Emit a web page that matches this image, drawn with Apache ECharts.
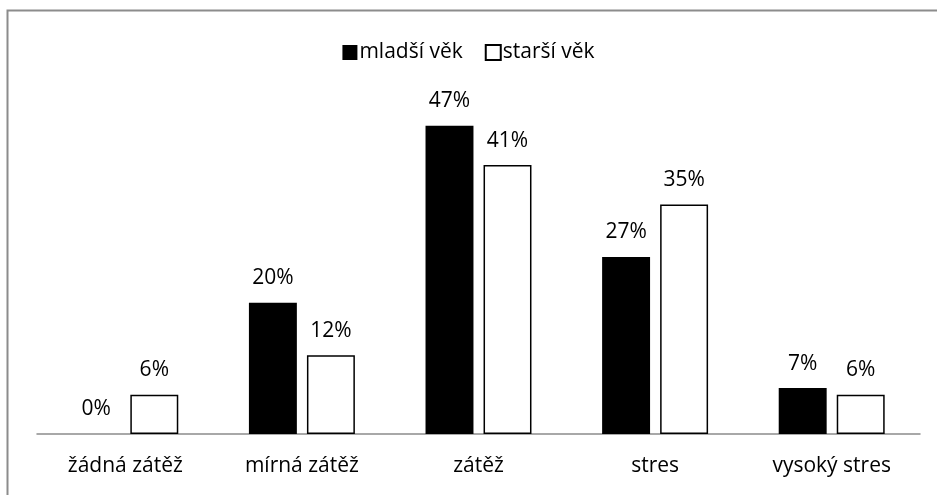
<!DOCTYPE html>
<html>
<head>
<meta charset="utf-8">
<script src="https://cdn.jsdelivr.net/npm/echarts@6/dist/echarts.min.js"></script>
<style>
  html, body { margin: 0; padding: 0; background: #fff; }
  #chart { width: 937px; height: 495px; }
</style>
</head>
<body>
<div id="chart"></div>
<script>
const categories = ['žádná zátěž', 'mírná zátěž', 'zátěž', 'stres', 'vysoký stres']
const youngerValues = [0, 20, 47, 27, 7]
const olderValues = [6, 12, 41, 35, 6]
const seriesNames = ['mladší věk', 'starší věk']

const font = '"Open Sans", sans-serif'

const chart = echarts.init(document.getElementById('chart'))

const labelStyle = {
  show: true,
  position: 'top',
  distance: 14,
  formatter: '{c}%',
  color: '#000',
  fontFamily: font,
  fontSize: 21
}

chart.setOption({
  animation: false,
  graphic: [{
    type: 'rect',
    shape: { x: 7.5, y: 10.5, width: 1100, height: 600 },
    style: { fill: 'none', stroke: '#8c8c8c', lineWidth: 2 },
    silent: true
  }],
  legend: {
    top: 37,
    left: 'center',
    itemWidth: 15,
    itemHeight: 15,
    itemGap: 22,
    icon: 'rect',
    textStyle: { fontFamily: font, fontSize: 21, color: '#000', padding: [0, 0, 0, -3] },
    data: seriesNames
  },
  grid: { left: 37, right: 17, top: 106, bottom: 61 },
  xAxis: {
    type: 'category',
    data: categories,
    axisLine: { lineStyle: { color: '#8c8c8c', width: 1.5 } },
    axisTick: { show: false },
    axisLabel: { color: '#000', fontFamily: font, fontSize: 21, margin: 22 }
  },
  yAxis: {
    type: 'value',
    min: 0,
    max: 50,
    show: false,
    splitLine: { show: false }
  },
  series: [
    {
      name: seriesNames[0],
      type: 'bar',
      data: youngerValues,
      barGap: '21%',
      barCategoryGap: '40%',
      itemStyle: { color: '#000', borderWidth: 0 },
      label: labelStyle
    },
    {
      name: seriesNames[1],
      type: 'bar',
      data: olderValues,
      itemStyle: { color: '#fff', borderColor: '#000', borderWidth: 1.5 },
      label: labelStyle
    }
  ]
})
</script>
</body>
</html>
